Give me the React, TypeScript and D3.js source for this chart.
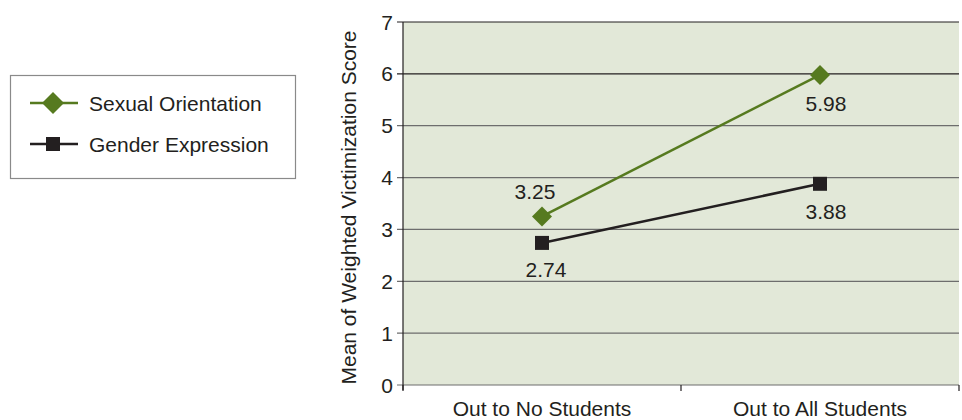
import React from "react";
import * as d3 from "d3";

const categories = ["Out to No Students", "Out to All Students"];
const sexualOrientation = [3.25, 5.98];
const genderExpression = [2.74, 3.88];
const yTicks = [0, 1, 2, 3, 4, 5, 6, 7];
const seriesNames = ["Sexual Orientation", "Gender Expression"];

const W = 962, H = 420;
const M = { left: 403, right: 959, top: 22, bottom: 385 };
const GREEN = "#567a1f";
const BLACK = "#231f20";
const FONT = "Liberation Sans, Arial, sans-serif";
const FS = 21;

export default function App() {
  const x = d3.scaleBand<string>().domain(categories).range([M.left, M.right]);
  const y = d3.scaleLinear().domain([0, 7]).range([M.bottom, M.top]);
  const cx = (c: string) => (x(c) as number) + x.bandwidth() / 2;
  const line = d3.line<[number, number]>().x(d => d[0]).y(d => d[1]);
  const soPts: [number, number][] = categories.map((c, i) => [cx(c), y(sexualOrientation[i])]);
  const gePts: [number, number][] = categories.map((c, i) => [cx(c), y(genderExpression[i])]);
  const diamond = (px: number, py: number, r: number) =>
    `M${px},${py - r}L${px + r},${py}L${px},${py + r}L${px - r},${py}Z`;

  // label offsets: [dx, dy] relative to point
  const soLabelOff: [number, number][] = [[-7, -17], [6, 36]];
  const geLabelOff: [number, number][] = [[4, 34], [6, 35]];

  return (
    <svg width={W} height={H} style={{ position: "absolute", left: 0, top: 0 }} fontFamily={FONT}>
      <rect x={M.left} y={M.top} width={M.right - M.left} height={M.bottom - M.top} fill="#e2e8d8" />
      {yTicks.map(t => (
        <g key={t}>
          <line x1={M.left - 6} x2={M.right} y1={y(t)} y2={y(t)}
            stroke={t === 7 || t === 6 ? "#231f20" : "#6d6d6d"} strokeWidth={1.2} />
          <text x={M.left - 10} y={y(t)} dy="0.36em" textAnchor="end" fontSize={FS} fill="#231f20">{t}</text>
        </g>
      ))}
      <line x1={M.left} x2={M.left} y1={M.top} y2={M.bottom + 5} stroke="#231f20" strokeWidth={1.2} />
      {[M.left, ...categories.map(c => (x(c) as number) + x.bandwidth())].map((tx, i) => (
        <line key={i} x1={tx} x2={tx} y1={M.bottom} y2={M.bottom + 6} stroke="#231f20" strokeWidth={1.2} />
      ))}
      {categories.map(c => (
        <text key={c} x={cx(c)} y={M.bottom + 31} textAnchor="middle" fontSize={FS} fill="#231f20">{c}</text>
      ))}
      <text transform={`translate(356,${(M.top + M.bottom) / 2 + 4}) rotate(-90)`} textAnchor="middle"
        fontSize={FS} fill="#231f20">Mean of Weighted Victimization Score</text>

      <path d={line(soPts) || ""} fill="none" stroke={GREEN} strokeWidth={2.5} />
      <path d={line(gePts) || ""} fill="none" stroke={BLACK} strokeWidth={2.5} />
      {soPts.map((p, i) => (
        <path key={i} d={diamond(p[0], p[1], 10)} fill={GREEN} />
      ))}
      {gePts.map((p, i) => (
        <rect key={i} x={p[0] - 7} y={p[1] - 7} width={14} height={14} fill={BLACK} />
      ))}
      {soPts.map((p, i) => (
        <text key={i} x={p[0] + soLabelOff[i][0]} y={p[1] + soLabelOff[i][1]} textAnchor="middle"
          fontSize={FS} fill="#231f20">{sexualOrientation[i].toFixed(2)}</text>
      ))}
      {gePts.map((p, i) => (
        <text key={i} x={p[0] + geLabelOff[i][0]} y={p[1] + geLabelOff[i][1]} textAnchor="middle"
          fontSize={FS} fill="#231f20">{genderExpression[i].toFixed(2)}</text>
      ))}

      <rect x={10.5} y={75.5} width={285} height={103} fill="white" stroke="#8a8a8a" strokeWidth={1.2} />
      {seriesNames.map((s, i) => {
        const ly = 103 + i * 41;
        return (
          <g key={s}>
            <line x1={30} x2={78} y1={ly} y2={ly} stroke={i === 0 ? GREEN : BLACK} strokeWidth={2.5} />
            {i === 0 ? <path d={diamond(53, ly, 11)} fill={GREEN} />
              : <rect x={46} y={ly - 7} width={14} height={14} fill={BLACK} />}
            <text x={89} y={ly} dy="0.36em" fontSize={FS} fill="#231f20">{s}</text>
          </g>
        );
      })}
    </svg>
  );
}
